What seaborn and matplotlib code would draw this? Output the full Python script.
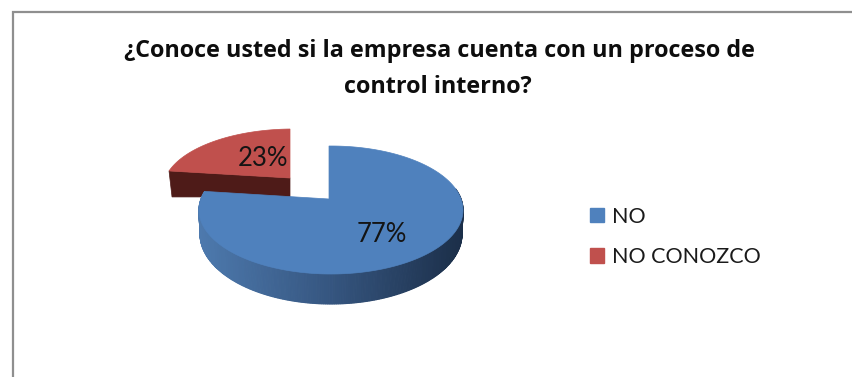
import numpy as np
import matplotlib
matplotlib.use("Agg")
import matplotlib.pyplot as plt
from matplotlib.patches import Polygon, Patch
import seaborn as sns

# Survey answers (percent)
categories = ["NO", "NO CONOZCO"]
shares = [77, 23]
title_lines = ["¿Conoce usted si la empresa cuenta con un proceso de", "control interno?"]

sns.set_theme(style="white")
plt.rcParams["font.family"] = ["Lato", "DejaVu Sans"]

FACE = {"NO": "#4f81bd", "NO CONOZCO": "#c0504d"}
DARK_RED = "#4e1b18"
side_ramp = sns.blend_palette(["#4d79ad", "#35557f", "#1b2e48"], 120)


def rim(t, apex, center, a, b):
    """Point where the tilted radius at clockwise angle t meets the rim ellipse."""
    dx, dy = a * np.sin(t), -b * np.cos(t)
    ox, oy = apex[0] - center[0], apex[1] - center[1]
    qa = (dx / a) ** 2 + (dy / b) ** 2
    qb = 2 * (ox * dx / a**2 + oy * dy / b**2)
    qc = (ox / a) ** 2 + (oy / b) ** 2 - 1
    s = (-qb + np.sqrt(qb**2 - 4 * qa * qc)) / (2 * qa)
    return np.column_stack([apex[0] + s * dx, apex[1] + s * dy])


fig = plt.figure(figsize=(8.53, 3.77), dpi=100)
ax = fig.add_axes([0, 0, 1, 1])
ax.set_xlim(0, 853)
ax.set_ylim(377, 0)
ax.axis("off")

# Chart frame: only the left and top edges fall inside the image
ax.plot([13, 13, 853], [377, 12, 12], color="#8f8f8f", lw=1.6, solid_joinstyle="miter")

total = sum(shares)
split = 2 * np.pi * shares[0] / total

# Exploded slice, drawn first so the main slice overlaps its base
red_apex, red_center = (290, 178), (293, 189)
t_red = np.linspace(split, 2 * np.pi, 60)
red_rim = rim(t_red, red_apex, red_center, 130, 60)
cut_top = np.array([red_rim[0], red_apex])
cut_low = np.array([red_apex, red_rim[0]]) + np.array([[0, 19], [3, 26]])
ax.add_patch(Polygon(np.vstack([cut_top, cut_low]), closed=True, fc=DARK_RED, ec=DARK_RED, lw=0.5, zorder=2))
ax.add_patch(Polygon(np.vstack([[red_apex], red_rim]), closed=True, fc=FACE[categories[1]],
                     ec=FACE[categories[1]], lw=0.5, zorder=3))

# Main slice: shaded wall (front-facing part only), then the top face
blue_apex, blue_center = (329, 199), (331, 210)
t_blue = np.linspace(0, split, 400)
top_rim = rim(t_blue, blue_apex, blue_center, 132, 64)
low_rim = rim(t_blue, (blue_apex[0], blue_apex[1] + 24), (331, 234), 131, 70)
x_min, x_max = top_rim[:, 0].min(), top_rim[:, 0].max()
for i in range(len(t_blue) - 1):
    if t_blue[i] < np.radians(80):
        continue
    quad = np.array([top_rim[i], top_rim[i + 1], low_rim[i + 1], low_rim[i]])
    frac = (quad[:, 0].mean() - x_min) / (x_max - x_min)
    col = side_ramp[int(np.clip(frac, 0, 1) * (len(side_ramp) - 1))]
    ax.add_patch(Polygon(quad, closed=True, fc=col, ec=col, lw=0.8, zorder=4))
ax.add_patch(Polygon(np.vstack([[blue_apex], top_rim]), closed=True, fc=FACE[categories[0]],
                     ec=FACE[categories[0]], lw=0.5, zorder=5))

# Percentage labels
label_at = [(382, 234), (263, 158)]
for share, (lx, ly) in zip(shares, label_at):
    ax.text(lx, ly, f"{share}%", ha="center", va="center", fontsize=18.5, color="#141414", zorder=6)

# Title
title_font = ["Open Sans", "DejaVu Sans"]
ax.text(439, 51, title_lines[0], ha="center", va="center", fontsize=16.8, fontweight="bold",
        color="#0d0d0d", family=title_font)
ax.text(438, 87, title_lines[1], ha="center", va="center", fontsize=16.8, fontweight="bold",
        color="#0d0d0d", family=title_font)

# Legend
handles = [Patch(fc=FACE[c], ec=FACE[c], label=c) for c in categories]
ax.legend(handles=handles, loc="upper left", bbox_to_anchor=(581 / 853, 1 - 198 / 377), frameon=False,
          fontsize=15.5, handlelength=0.65, handleheight=0.65, handletextpad=0.4,
          labelspacing=0.95, labelcolor="#1a1a1a", borderpad=0, borderaxespad=0.4)

fig.savefig("out.png", dpi=100, facecolor="white")
